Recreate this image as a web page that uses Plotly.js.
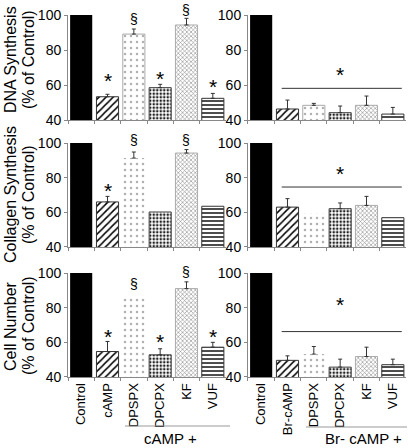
<!DOCTYPE html>
<html><head><meta charset="utf-8">
<script src="https://cdn.plot.ly/plotly-3.0.1.min.js"></script>
<style>html,body{margin:0;padding:0;background:#fff}#chart{width:408px;height:448px}</style>
</head><body><div id="chart"></div>
<script>
// ---------- data ----------
const leftCategories = ["Control","cAMP","DPSPX","DPCPX","KF","VUF"];
const rightCategories = ["Control","Br-cAMP","DPSPX","DPCPX","KF","VUF"];
const rowTitles = ["DNA Synthesis","Collagen Synthesis","Cell Number"];
const unitTitle = "(% of Control)";
const leftGroupLabel = "cAMP +";
const rightGroupLabel = "Br- cAMP +";
const yTicks = [40,60,80,100];

const dnaCamp    = [100,53.3,89.1,58.5,94.3,52.4];
const dnaCampErr = [0,1.4,2.9,1.9,3.8,2.8];
const dnaBr      = [100,46.3,48.4,44.2,48.4,43.4];
const dnaBrErr   = [0,5.1,1.1,3.8,5.3,3.8];
const colCamp    = [100,66,91.3,60.2,94.2,63.5];
const colCampErr = [0,3.2,3.5,0,2,0];
const colBr      = [100,63,59.6,62.1,64,56.9];
const colBrErr   = [0,4.9,0,3.3,5.2,0];
const cellCamp    = [100,54.7,85.3,52.8,91,57.2];
const cellCampErr = [0,5.8,0,3.5,3.9,2.8];
const cellBr      = [100,49.6,53.2,45.7,51.8,47.1];
const cellBrErr   = [0,2.6,4.4,4.6,5.4,3.2];

// significance marks: [category, symbol, y]
const dnaCampMarks  = [["cAMP","*",65.7],["DPSPX","§",98],["DPCPX","*",66.7],["KF","§",102.9],["VUF","*",62]];
const colCampMarks  = [["cAMP","*",75.6],["DPSPX","§",101.7],["KF","§",101.7]];
const cellCampMarks = [["cAMP","*",66],["DPSPX","§",93.9],["DPCPX","*",63.3],["KF","§",100.6],["VUF","*",66]];
const brLineY = [58.1,74.6,66.2];   // level of the bracket over Br-cAMP groups
const brStarY = [68.6,85.2,84.7];   // "*" above that bracket

// ---------- style ----------
const FONT = "Arial, 'Liberation Sans', sans-serif";
const Y0 = 40, Y1 = 100;
const xDom = [[0.1667,0.5539],[0.6078,0.9951]];
const yDom = [[0.7321,0.9665],[0.4487,0.6808],[0.1585,0.3906]];
const patShape = ["", "/", ".", ".", "x", "-"];
const patFg    = ["#000","#000","#b0b0b0","#222","#888","#000"];
const patSize  = [8, 5, 6, 3.5, 3, 4];
const patSol   = [1, 0.3, 0.14, 0.42, 0.35, 0.35];
const barColor = ["#000","#fff","#fff","#fff","#fff","#fff"];
const lineCol  = ["#000","#333","#aaa","#444","#aaa","#333"];

const rows = [
  {L:[dnaCamp,dnaCampErr], R:[dnaBr,dnaBrErr], marks:dnaCampMarks},
  {L:[colCamp,colCampErr], R:[colBr,colBrErr], marks:colCampMarks},
  {L:[cellCamp,cellCampErr], R:[cellBr,cellBrErr], marks:cellCampMarks},
];

function toPaperY(r, v) { const d = yDom[r]; return d[0] + (v - Y0) / (Y1 - Y0) * (d[1] - d[0]); }

const data = [];
const layout = {
  width:408, height:448, margin:{l:0,r:0,t:0,b:0},
  paper_bgcolor:"#fff", plot_bgcolor:"rgba(0,0,0,0)",
  showlegend:false, barmode:"overlay",
  font:{family:FONT, color:"#000"},
  annotations:[], shapes:[]
};

rows.forEach((row, r) => {
  [0,1].forEach(s => {
    const k = r*2 + s + 1;
    const xs = k===1 ? "x" : "x"+k, ys = k===1 ? "y" : "y"+k;
    const cats = s===0 ? leftCategories : rightCategories;
    const [vals, errs] = s===0 ? row.L : row.R;
    cats.forEach((c, i) => {
      const lw = i===0 ? 0 : ((r>0 && i===2) ? 0 : 1);
      const marker = {color:barColor[i], line:{color:lineCol[i], width:lw}};
      if (patShape[i]) marker.pattern = {shape:patShape[i], fgcolor:patFg[i], bgcolor:barColor[i],
        size:patSize[i], solidity:patSol[i], fillmode:"replace"};
      const tr = {type:"bar", x:[c], y:[vals[i]], xaxis:xs, yaxis:ys, width:0.84, marker:marker, hoverinfo:"skip"};
      if (errs[i] > 0) tr.error_y = {type:"data", symmetric:false, array:[errs[i]], arrayminus:[0],
        color:"#333", thickness:1, width:2};
      data.push(tr);
    });
    layout["xaxis"+(k===1?"":k)] = {
      domain:xDom[s], anchor:ys, type:"category", categoryorder:"array", categoryarray:cats,
      range:[-0.5,5.5], fixedrange:true, showline:true, linecolor:"#888", linewidth:1,
      ticks:"outside", tickson:"boundaries", ticklen:3, tickcolor:"#888",
      showgrid:false, zeroline:false, showticklabels:r===2, tickangle:-90,
      tickfont:{size:13, family:FONT, color:"#000"}
    };
    layout["yaxis"+(k===1?"":k)] = {
      domain:yDom[r], anchor:xs, range:[Y0,Y1], tickvals:yTicks, fixedrange:true,
      showline:true, linecolor:"#888", linewidth:1, ticks:"outside", ticklen:3, tickcolor:"#888",
      showgrid:false, zeroline:false, tickfont:{size:14, family:FONT, color:"#000"}
    };
    if (s===0) {
      row.marks.forEach(m => layout.annotations.push({
        xref:xs, yref:"paper", x:m[0], y:toPaperY(r, m[2]), xanchor:"center", yanchor:"middle",
        text:m[1], showarrow:false,
        font:{size:m[1]==="*"?21:14, family:FONT, color:"black"}, yshift:m[1]==="*"?-5:0
      }));
    } else {
      layout.shapes.push({type:"line", xref:xs, yref:ys, x0:0.78, x1:5.34, y0:brLineY[r], y1:brLineY[r],
        line:{color:"#333", width:1}});
      layout.annotations.push({xref:xs, yref:"paper", x:"DPCPX", y:toPaperY(r, brStarY[r]),
        xanchor:"center", yanchor:"middle", text:"*", showarrow:false,
        font:{size:21, family:FONT, color:"black"}, yshift:-5});
    }
  });
  // y titles
  const yc = [0.866, 0.5647, 0.2723][r];
  layout.annotations.push({xref:"paper", yref:"paper", x:10/408, y:yc, text:rowTitles[r], textangle:-90,
    showarrow:false, xanchor:"center", yanchor:"middle", font:{size:16, family:FONT, color:"#000"}});
  layout.annotations.push({xref:"paper", yref:"paper", x:28/408, y:yc, text:unitTitle, textangle:-90,
    showarrow:false, xanchor:"center", yanchor:"middle", font:{size:16, family:FONT, color:"#000"}});
});

// group brackets at bottom
layout.shapes.push({type:"line", xref:"paper", yref:"paper", x0:125/408, x1:230/408, y0:1-426/448, y1:1-426/448, line:{color:"#999", width:1}});
layout.shapes.push({type:"line", xref:"paper", yref:"paper", x0:306/408, x1:407/408, y0:1-427/448, y1:1-427/448, line:{color:"#999", width:1}});
layout.annotations.push({xref:"paper", yref:"paper", x:170/408, y:1-438/448, text:leftGroupLabel, showarrow:false,
  xanchor:"center", yanchor:"middle", font:{size:15, family:FONT, color:"#000"}});
layout.annotations.push({xref:"paper", yref:"paper", x:363/408, y:1-438/448, text:rightGroupLabel, showarrow:false,
  xanchor:"center", yanchor:"middle", font:{size:15, family:FONT, color:"#000"}});

Plotly.newPlot("chart", data, layout, {staticPlot:true, displayModeBar:false});
</script>
</body></html>
